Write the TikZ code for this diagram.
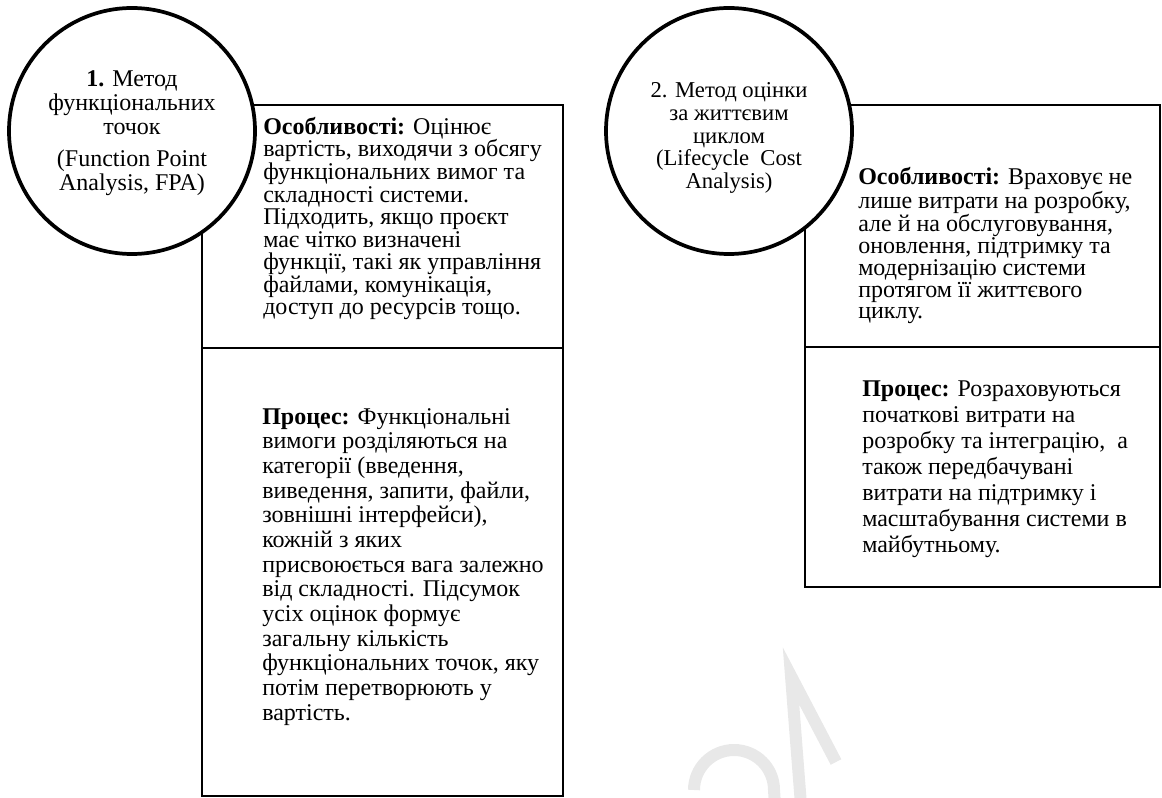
\documentclass[tikz,border=0pt]{standalone}
\usepackage{fontspec}
\setmainfont{Liberation Serif}
\tikzset{
  box/.style={draw, line width=2.2pt},
  method/.style={circle, draw, line width=2.8pt, fill=white, minimum size=184.5pt, inner sep=0pt},
  txt/.style={anchor=north west, align=left, inner sep=0pt},
  mark2024/.style={draw=gray!18, line width=9pt},
}
\begin{document}
\begin{tikzpicture}[x=0.75pt, y=-0.75pt]
  \useasboundingbox (0,0) rectangle (1162,798);

  % faint watermark pieces at the bottom
  \begin{scope}
    \clip (0,0) rectangle (1162,798);
    \draw[mark2024] (694,790) arc[start angle=180, end angle=360, radius=40] -- (775,805);
    \draw[mark2024, line join=miter] (801,805) -- (791,676) -- (836,762);
  \end{scope}

  % left column: function point analysis
  \draw[box] (202,105) rectangle (563,348);
  \draw[box] (202,348) rectangle (563,796);
  \node[txt, font=\fontsize{18}{16.9}\selectfont] (feat1) at (263,117) {\textbf{Особливості:} Оцінює\\
    вартість, виходячи з обсягу\\
    функціональних вимог та\\
    складності системи.\\
    Підходить, якщо проєкт\\
    має чітко визначені\\
    функції, такі як управління\\
    файлами, комунікація,\\
    доступ до ресурсів тощо.};
  \node[txt, font=\fontsize{18}{18.5}\selectfont] (proc1) at (262,408) {\textbf{Процес:} Функціональні\\
    вимоги розділяються на\\
    категорії (введення,\\
    виведення, запити, файли,\\
    зовнішні інтерфейси),\\
    кожній з яких\\
    присвоюється вага залежно\\
    від складності. Підсумок\\
    усіх оцінок формує\\
    загальну кількість\\
    функціональних точок, яку\\
    потім перетворюють у\\
    вартість.};
  \node[method] (fpa) at (132,131) {};
  \node[align=center, inner sep=0pt, font=\fontsize{18}{18}\selectfont] (fpatext) at (132,133) {\textbf{1.} Метод\\
    функціональних\\
    точок\\[6pt]
    (Function Point\\
    Analysis, FPA)};

  % right column: lifecycle cost analysis
  \draw[box] (805,105) rectangle (1160,347);
  \draw[box] (805,347) rectangle (1160,587);
  \node[txt, font=\fontsize{18}{16.3}\selectfont] (feat2) at (858,167) {\textbf{Особливості:} Враховує не\\
    лише витрати на розробку,\\
    але й на обслуговування,\\
    оновлення, підтримку та\\
    модернізацію системи\\
    протягом її життєвого\\
    циклу.};
  \node[txt, font=\fontsize{18}{19.4}\selectfont] (proc2) at (862,381) {\textbf{Процес:} Розраховуються\\
    початкові витрати на\\
    розробку та інтеграцію,~ а\\
    також передбачувані\\
    витрати на підтримку і\\
    масштабування системи в\\
    майбутньому.};
  \node[method] (lcca) at (729,131) {};
  \node[align=center, inner sep=0pt, font=\fontsize{17}{17}\selectfont] (lccatext) at (729,138) {2. Метод оцінки\\
    за життєвим\\
    циклом\\
    (Lifecycle~ Cost\\
    Analysis)};
\end{tikzpicture}
\end{document}
